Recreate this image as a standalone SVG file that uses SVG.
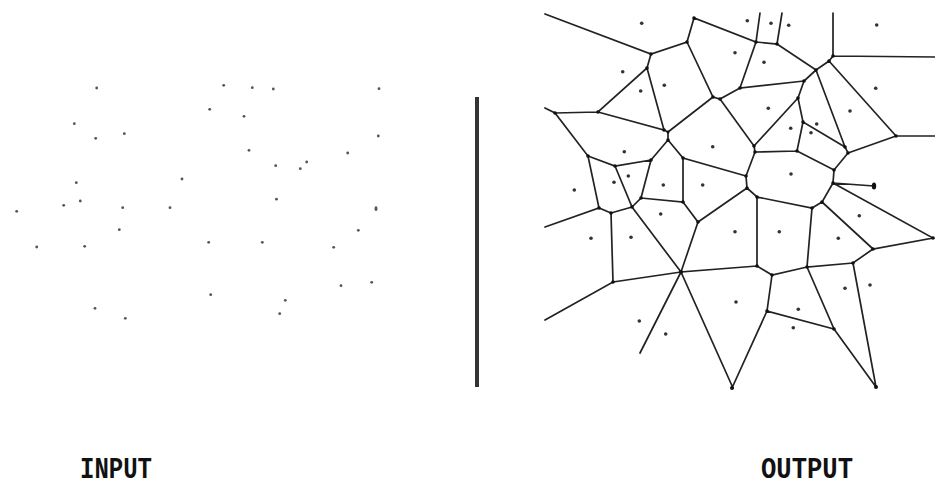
<svg xmlns="http://www.w3.org/2000/svg" width="935" height="487" viewBox="0 0 935 487">
<style>
.site{fill:#333}
.in{fill:#555}
.e{stroke:#222;stroke-width:1.7;fill:none;stroke-linecap:round}
.v{fill:#111}
.lbl{font-family:"Liberation Mono","Courier New",monospace;font-weight:bold;font-size:30px;fill:#111}
</style>
<rect width="935" height="487" fill="#fff"/>
<g id="input-points">
<circle class="in" cx="96.7" cy="88" r="1.4"/><circle class="in" cx="74.3" cy="123.7" r="1.4"/><circle class="in" cx="95.7" cy="138.3" r="1.4"/><circle class="in" cx="124.3" cy="133.7" r="1.4"/><circle class="in" cx="76.3" cy="182.7" r="1.4"/><circle class="in" cx="182" cy="179" r="1.4"/><circle class="in" cx="63.7" cy="205.3" r="1.4"/><circle class="in" cx="80.3" cy="201" r="1.4"/><circle class="in" cx="16.7" cy="211.3" r="1.4"/><circle class="in" cx="122.7" cy="207.7" r="1.4"/><circle class="in" cx="170" cy="207.7" r="1.4"/><circle class="in" cx="119.3" cy="229.7" r="1.4"/><circle class="in" cx="36.7" cy="247" r="1.4"/><circle class="in" cx="84.7" cy="246.3" r="1.4"/><circle class="in" cx="95" cy="308.3" r="1.4"/><circle class="in" cx="125.3" cy="318.3" r="1.4"/>
<circle class="in" cx="223.7" cy="85.3" r="1.4"/><circle class="in" cx="252.3" cy="87.7" r="1.4"/><circle class="in" cx="273.3" cy="89" r="1.4"/><circle class="in" cx="379" cy="88.7" r="1.4"/><circle class="in" cx="209.7" cy="109.3" r="1.4"/><circle class="in" cx="244" cy="116.3" r="1.4"/><circle class="in" cx="378.3" cy="136" r="1.4"/><circle class="in" cx="249" cy="150.3" r="1.4"/><circle class="in" cx="347.7" cy="153" r="1.4"/><circle class="in" cx="275.7" cy="165.7" r="1.4"/><circle class="in" cx="300.3" cy="168.7" r="1.4"/><circle class="in" cx="306.7" cy="162" r="1.4"/><circle class="in" cx="276.5" cy="199.2" r="1.4"/>
<ellipse class="in" cx="376" cy="208.7" rx="1.5" ry="2.4"/><circle class="in" cx="358.3" cy="230.3" r="1.4"/><circle class="in" cx="208.7" cy="242.3" r="1.4"/><circle class="in" cx="262.3" cy="242.3" r="1.4"/><circle class="in" cx="333.7" cy="247.3" r="1.4"/><circle class="in" cx="341" cy="285.7" r="1.4"/><circle class="in" cx="371.7" cy="282.3" r="1.4"/><circle class="in" cx="210.7" cy="294.7" r="1.4"/><circle class="in" cx="285.3" cy="300.3" r="1.4"/><circle class="in" cx="279.7" cy="313.7" r="1.4"/>
</g>
<g id="divider">
<rect x="475" y="97" width="4" height="290" fill="#333"/>
</g>
<g id="connectors">
<path class="e" d="M545,14 L651,54 L687,42 L694,18 L756,42 L760,13 M756,42 L777,44 L782,13 M777,44 L816,70 L829,61 L833,56 L833,13 M833,56 L935,57 M829,61 L896,136 L935,136 M896,136 L848,153 L845,147 L816,70 M845,147 L803,122 L798,98 L804,81 L816,70 M804,81 L740,88 L756,42 M740,88 L720,99 L713,97 L687,42 M713,97 L668,132 M720,99 L754,146 L798,98 M754,146 L755,152 L797,151 L803,122 M797,151 L834,170 L848,153 M834,170 L833,183 L874,186 M833,183 L933,238 L873,249 L822,202 L833,183 M822,202 L812,208 L757,197 L747,188 L746,176 L755,152 M746,176 L683,158 L668,140 M812,208 L807,267 L853,263 L873,249 M853,263 L876,387 M807,267 L772,275 L757,266 L757,197 M772,275 L767,311 L834,329 L807,267 M834,329 L876,387 M767,311 L732,388 M757,266 L681,272 L733,388 M681,272 L640,353 M681,272 L613,282 L545,320 M613,282 L611,213 L599,208 L545,227 M599,208 L588,156 L555,113 L545,108 M555,113 L598,112 L647,68 L651,54 M647,68 L664,130 L598,112 M664,130 L668,132 L668,140 L651,160 L615,166 L588,156 M615,166 L632,207 L611,213 M632,207 L641,198 L651,160 M641,198 L683,202 L683,158 M683,202 L698,222 L747,188 M698,222 L681,272 L632,207"/>
</g>
<g id="vertices">
<circle class="v" cx="651" cy="54" r="1.8"/><circle class="v" cx="687" cy="42" r="1.8"/><circle class="v" cx="694" cy="18" r="1.8"/><circle class="v" cx="756" cy="42" r="1.8"/><circle class="v" cx="777" cy="44" r="1.8"/><circle class="v" cx="816" cy="70" r="1.8"/><circle class="v" cx="829" cy="61" r="1.8"/><circle class="v" cx="833" cy="56" r="1.8"/><circle class="v" cx="896" cy="136" r="1.8"/><circle class="v" cx="848" cy="153" r="1.8"/><circle class="v" cx="845" cy="147" r="1.8"/><circle class="v" cx="803" cy="122" r="1.8"/><circle class="v" cx="798" cy="98" r="1.8"/><circle class="v" cx="804" cy="81" r="1.8"/><circle class="v" cx="740" cy="88" r="1.8"/><circle class="v" cx="720" cy="99" r="1.8"/><circle class="v" cx="713" cy="97" r="1.8"/><circle class="v" cx="754" cy="146" r="1.8"/><circle class="v" cx="755" cy="152" r="1.8"/><circle class="v" cx="797" cy="151" r="1.8"/><circle class="v" cx="834" cy="170" r="1.8"/><circle class="v" cx="833" cy="183" r="1.8"/><circle class="v" cx="933" cy="238" r="1.8"/><circle class="v" cx="873" cy="249" r="1.8"/><circle class="v" cx="822" cy="202" r="1.8"/><circle class="v" cx="812" cy="208" r="1.8"/><circle class="v" cx="757" cy="197" r="1.8"/><circle class="v" cx="747" cy="188" r="1.8"/><circle class="v" cx="746" cy="176" r="1.8"/><circle class="v" cx="683" cy="158" r="1.8"/><circle class="v" cx="668" cy="140" r="1.8"/><circle class="v" cx="664" cy="130" r="1.8"/><circle class="v" cx="668" cy="132" r="1.5"/><circle class="v" cx="807" cy="267" r="1.8"/><circle class="v" cx="853" cy="263" r="1.8"/><circle class="v" cx="772" cy="275" r="1.8"/><circle class="v" cx="757" cy="266" r="1.8"/><circle class="v" cx="767" cy="311" r="1.8"/><circle class="v" cx="834" cy="329" r="1.8"/><circle class="v" cx="876" cy="387" r="2"/><circle class="v" cx="732" cy="388" r="2"/><circle class="v" cx="681" cy="272" r="2"/><circle class="v" cx="613" cy="282" r="1.8"/><circle class="v" cx="611" cy="213" r="1.8"/><circle class="v" cx="599" cy="208" r="1.8"/><circle class="v" cx="588" cy="156" r="1.8"/><circle class="v" cx="555" cy="113" r="1.8"/><circle class="v" cx="598" cy="112" r="1.8"/><circle class="v" cx="647" cy="68" r="1.8"/><circle class="v" cx="651" cy="160" r="1.8"/><circle class="v" cx="615" cy="166" r="1.8"/><circle class="v" cx="632" cy="207" r="1.8"/><circle class="v" cx="641" cy="198" r="1.8"/><circle class="v" cx="683" cy="202" r="1.8"/><circle class="v" cx="698" cy="222" r="1.8"/>
<ellipse class="v" cx="874" cy="186" rx="2.2" ry="3.5"/>
</g>
<g id="output-sites">
<circle class="site" cx="641.7" cy="23.3" r="1.8"/><circle class="site" cx="622.7" cy="71.7" r="1.8"/><circle class="site" cx="640.7" cy="91" r="1.8"/><circle class="site" cx="664.3" cy="85.3" r="1.8"/><circle class="site" cx="735" cy="52.7" r="1.8"/><circle class="site" cx="624.3" cy="151.7" r="1.8"/><circle class="site" cx="712.7" cy="146.7" r="1.8"/><circle class="site" cx="747.3" cy="20.7" r="1.8"/><circle class="site" cx="771" cy="23.3" r="1.8"/><circle class="site" cx="788.7" cy="25.3" r="1.8"/><circle class="site" cx="876.7" cy="25" r="1.8"/><circle class="site" cx="764" cy="62.3" r="1.8"/><circle class="site" cx="875.7" cy="88.3" r="1.8"/><circle class="site" cx="768.3" cy="108.3" r="1.8"/><circle class="site" cx="850" cy="111" r="1.8"/><circle class="site" cx="790.7" cy="128.3" r="1.8"/><circle class="site" cx="816.7" cy="124" r="1.8"/><circle class="site" cx="811" cy="132.7" r="1.8"/><circle class="site" cx="574.3" cy="190" r="1.8"/><circle class="site" cx="614" cy="182.3" r="1.8"/><circle class="site" cx="628.3" cy="176" r="1.8"/><circle class="site" cx="663.3" cy="185" r="1.8"/><circle class="site" cx="702.7" cy="185" r="1.8"/><circle class="site" cx="660.7" cy="214" r="1.8"/><circle class="site" cx="591" cy="238.3" r="1.8"/><circle class="site" cx="631" cy="237.3" r="1.8"/><circle class="site" cx="735" cy="231.7" r="1.8"/><circle class="site" cx="791" cy="174" r="1.8"/><circle class="site" cx="859.3" cy="215.7" r="1.8"/><circle class="site" cx="779.3" cy="231.7" r="1.8"/><circle class="site" cx="838.3" cy="238.3" r="1.8"/><circle class="site" cx="845" cy="288.3" r="1.8"/><circle class="site" cx="870" cy="285" r="1.8"/><circle class="site" cx="639.3" cy="321" r="1.8"/><circle class="site" cx="665.7" cy="334" r="1.8"/><circle class="site" cx="736" cy="302" r="1.8"/><circle class="site" cx="798.3" cy="309.3" r="1.8"/><circle class="site" cx="793.3" cy="327.7" r="1.8"/>
</g>
<g id="labels">
<text class="lbl" x="80" y="478" textLength="72" lengthAdjust="spacingAndGlyphs">INPUT</text>
<text class="lbl" x="761" y="478" textLength="92" lengthAdjust="spacingAndGlyphs">OUTPUT</text>
</g>
</svg>
